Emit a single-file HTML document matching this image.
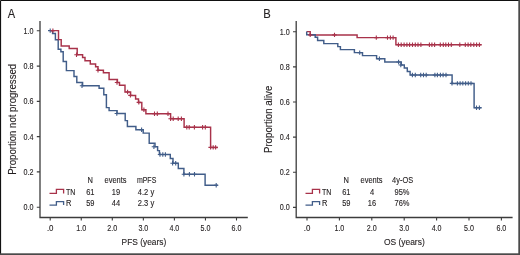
<!DOCTYPE html>
<html><head><meta charset="utf-8"><style>
svg,text{font-family:"Liberation Sans",sans-serif}
text{stroke:#231f20;stroke-width:0.12px}
html,body{margin:0;padding:0;background:#fff;width:520px;height:255px;overflow:hidden}
</style></head><body>
<svg width="520" height="255" viewBox="0 0 520 255" style="display:block;will-change:transform" font-family="Liberation Sans, sans-serif" fill="#231f20">
<rect x="0" y="0" width="520" height="255" fill="#fff"/>
<text x="7.8" y="17.9" font-size="12" textLength="7.4" lengthAdjust="spacingAndGlyphs">A</text>
<text x="263.3" y="17.95" font-size="12.3" textLength="7.5" lengthAdjust="spacingAndGlyphs">B</text>
<path d="M40,21 V217.5 H247.8" fill="none" stroke="#3c3c3c" stroke-width="1.3"/>
<path d="M36.8,207.20 H40 M36.8,171.92 H40 M36.8,136.64 H40 M36.8,101.36 H40 M36.8,66.08 H40 M36.8,30.80 H40 M50.20,217.5 V220.6 M81.25,217.5 V220.6 M112.30,217.5 V220.6 M143.35,217.5 V220.6 M174.40,217.5 V220.6 M205.45,217.5 V220.6 M236.50,217.5 V220.6 " fill="none" stroke="#3c3c3c" stroke-width="1.1"/>
<text x="33.5" y="210.15" text-anchor="end" font-size="8.5" textLength="10.0" lengthAdjust="spacingAndGlyphs">0.0</text>
<text x="33.5" y="174.87" text-anchor="end" font-size="8.5" textLength="10.0" lengthAdjust="spacingAndGlyphs">0.2</text>
<text x="33.5" y="139.59" text-anchor="end" font-size="8.5" textLength="10.0" lengthAdjust="spacingAndGlyphs">0.4</text>
<text x="33.5" y="104.31" text-anchor="end" font-size="8.5" textLength="10.0" lengthAdjust="spacingAndGlyphs">0.6</text>
<text x="33.5" y="69.03" text-anchor="end" font-size="8.5" textLength="10.0" lengthAdjust="spacingAndGlyphs">0.8</text>
<text x="33.5" y="33.75" text-anchor="end" font-size="8.5" textLength="10.0" lengthAdjust="spacingAndGlyphs">1.0</text>
<text x="50.20" y="231.2" text-anchor="middle" font-size="8.4" textLength="6.6" lengthAdjust="spacingAndGlyphs">.0</text>
<text x="81.25" y="231.2" text-anchor="middle" font-size="8.4" textLength="9.9" lengthAdjust="spacingAndGlyphs">1.0</text>
<text x="112.30" y="231.2" text-anchor="middle" font-size="8.4" textLength="9.9" lengthAdjust="spacingAndGlyphs">2.0</text>
<text x="143.35" y="231.2" text-anchor="middle" font-size="8.4" textLength="9.9" lengthAdjust="spacingAndGlyphs">3.0</text>
<text x="174.40" y="231.2" text-anchor="middle" font-size="8.4" textLength="9.9" lengthAdjust="spacingAndGlyphs">4.0</text>
<text x="205.45" y="231.2" text-anchor="middle" font-size="8.4" textLength="9.9" lengthAdjust="spacingAndGlyphs">5.0</text>
<text x="236.50" y="231.2" text-anchor="middle" font-size="8.4" textLength="9.9" lengthAdjust="spacingAndGlyphs">6.0</text>
<path d="M296.2,21 V217.5 H512.6" fill="none" stroke="#3c3c3c" stroke-width="1.3"/>
<path d="M293.0,207.40 H296.2 M293.0,172.26 H296.2 M293.0,137.12 H296.2 M293.0,101.98 H296.2 M293.0,66.84 H296.2 M293.0,31.70 H296.2 M307.00,217.5 V220.6 M339.40,217.5 V220.6 M371.80,217.5 V220.6 M404.20,217.5 V220.6 M436.60,217.5 V220.6 M469.00,217.5 V220.6 M501.40,217.5 V220.6 " fill="none" stroke="#3c3c3c" stroke-width="1.1"/>
<text x="289.8" y="210.35" text-anchor="end" font-size="8.5" textLength="10.0" lengthAdjust="spacingAndGlyphs">0.0</text>
<text x="289.8" y="175.21" text-anchor="end" font-size="8.5" textLength="10.0" lengthAdjust="spacingAndGlyphs">0.2</text>
<text x="289.8" y="140.07" text-anchor="end" font-size="8.5" textLength="10.0" lengthAdjust="spacingAndGlyphs">0.4</text>
<text x="289.8" y="104.93" text-anchor="end" font-size="8.5" textLength="10.0" lengthAdjust="spacingAndGlyphs">0.6</text>
<text x="289.8" y="69.79" text-anchor="end" font-size="8.5" textLength="10.0" lengthAdjust="spacingAndGlyphs">0.8</text>
<text x="289.8" y="34.65" text-anchor="end" font-size="8.5" textLength="10.0" lengthAdjust="spacingAndGlyphs">1.0</text>
<text x="307.00" y="231.2" text-anchor="middle" font-size="8.4" textLength="6.6" lengthAdjust="spacingAndGlyphs">.0</text>
<text x="339.40" y="231.2" text-anchor="middle" font-size="8.4" textLength="9.9" lengthAdjust="spacingAndGlyphs">1.0</text>
<text x="371.80" y="231.2" text-anchor="middle" font-size="8.4" textLength="9.9" lengthAdjust="spacingAndGlyphs">2.0</text>
<text x="404.20" y="231.2" text-anchor="middle" font-size="8.4" textLength="9.9" lengthAdjust="spacingAndGlyphs">3.0</text>
<text x="436.60" y="231.2" text-anchor="middle" font-size="8.4" textLength="9.9" lengthAdjust="spacingAndGlyphs">4.0</text>
<text x="469.00" y="231.2" text-anchor="middle" font-size="8.4" textLength="9.9" lengthAdjust="spacingAndGlyphs">5.0</text>
<text x="501.40" y="231.2" text-anchor="middle" font-size="8.4" textLength="9.9" lengthAdjust="spacingAndGlyphs">6.0</text>
<text x="143.9" y="244.6" text-anchor="middle" font-size="8.7" textLength="44.6" lengthAdjust="spacingAndGlyphs">PFS (years)</text>
<text x="404.3" y="244.6" text-anchor="middle" font-size="8.7" textLength="40.8" lengthAdjust="spacingAndGlyphs">OS (years)</text>
<text transform="translate(16.0,119.35) rotate(-90)" x="0" y="0" text-anchor="middle" font-size="10.2" textLength="111" lengthAdjust="spacingAndGlyphs">Proportion not progressed</text>
<text transform="translate(272.2,119.4) rotate(-90)" x="0" y="0" text-anchor="middle" font-size="10.2" textLength="67.4" lengthAdjust="spacingAndGlyphs">Proportion alive</text>
<path d="M49.5,193.4 H56.4 V189.4 H63.6 V193.4" fill="none" stroke="#a8324a" stroke-width="1.3"/>
<path d="M49.5,205.1 H56.4 V201.6 H63.6 V205.1" fill="none" stroke="#415d89" stroke-width="1.3"/>
<text x="90.3" y="182.5" text-anchor="middle" font-size="8.2" textLength="5.4" lengthAdjust="spacingAndGlyphs">N</text>
<text x="115.5" y="182.5" text-anchor="middle" font-size="8.2" textLength="22.0" lengthAdjust="spacingAndGlyphs">events</text>
<text x="146.6" y="182.5" text-anchor="middle" font-size="8.2" textLength="19.4" lengthAdjust="spacingAndGlyphs">mPFS</text>
<text x="66.0" y="194.5" font-size="8.2" textLength="9.4" lengthAdjust="spacingAndGlyphs">TN</text>
<text x="90.3" y="194.5" text-anchor="middle" font-size="8.2" textLength="8.3" lengthAdjust="spacingAndGlyphs">61</text>
<text x="116" y="194.5" text-anchor="middle" font-size="8.2" textLength="8.3" lengthAdjust="spacingAndGlyphs">19</text>
<text x="146" y="194.5" text-anchor="middle" font-size="8.2" textLength="16.4" lengthAdjust="spacingAndGlyphs">4.2 y</text>
<text x="66.0" y="206.0" font-size="8.2" textLength="5.4" lengthAdjust="spacingAndGlyphs">R</text>
<text x="90.3" y="206.0" text-anchor="middle" font-size="8.2" textLength="8.3" lengthAdjust="spacingAndGlyphs">59</text>
<text x="116" y="206.0" text-anchor="middle" font-size="8.2" textLength="8.3" lengthAdjust="spacingAndGlyphs">44</text>
<text x="146" y="206.0" text-anchor="middle" font-size="8.2" textLength="16.4" lengthAdjust="spacingAndGlyphs">2.3 y</text>
<path d="M305.5,193.4 H312.4 V189.4 H319.6 V193.4" fill="none" stroke="#a8324a" stroke-width="1.3"/>
<path d="M305.5,205.1 H312.4 V201.6 H319.6 V205.1" fill="none" stroke="#415d89" stroke-width="1.3"/>
<text x="346.3" y="182.5" text-anchor="middle" font-size="8.2" textLength="5.4" lengthAdjust="spacingAndGlyphs">N</text>
<text x="371.5" y="182.5" text-anchor="middle" font-size="8.2" textLength="22.0" lengthAdjust="spacingAndGlyphs">events</text>
<text x="402.6" y="182.5" text-anchor="middle" font-size="8.2" textLength="21.0" lengthAdjust="spacingAndGlyphs">4y-OS</text>
<text x="322.0" y="194.5" font-size="8.2" textLength="9.4" lengthAdjust="spacingAndGlyphs">TN</text>
<text x="346.3" y="194.5" text-anchor="middle" font-size="8.2" textLength="8.3" lengthAdjust="spacingAndGlyphs">61</text>
<text x="372" y="194.5" text-anchor="middle" font-size="8.2" textLength="4.2" lengthAdjust="spacingAndGlyphs">4</text>
<text x="402" y="194.5" text-anchor="middle" font-size="8.2" textLength="15.0" lengthAdjust="spacingAndGlyphs">95%</text>
<text x="322.0" y="206.0" font-size="8.2" textLength="5.4" lengthAdjust="spacingAndGlyphs">R</text>
<text x="346.3" y="206.0" text-anchor="middle" font-size="8.2" textLength="8.3" lengthAdjust="spacingAndGlyphs">59</text>
<text x="372" y="206.0" text-anchor="middle" font-size="8.2" textLength="8.3" lengthAdjust="spacingAndGlyphs">16</text>
<text x="402" y="206.0" text-anchor="middle" font-size="8.2" textLength="15.0" lengthAdjust="spacingAndGlyphs">76%</text>
<path d="M50.2,30.6 H52.6 V33.4 H55.4 V39.8 H58.2 V49.3 H60.9 V51.8 H63.2 V61.5 H66.4 V70.6 H74.0 V76.5 H76.8 V82.4 H82.6 V85.7 H99.1 V88.2 H103.8 V94.7 H106.4 V107.6 H109.1 V110.6 H117.1 V113.5 H125.2 V120.6 H127.4 V126.5 H135.9 V129.8 H143.2 V133.1 H149.2 V143.2 H155.0 V146.8 H157.6 V150.6 H159.4 V154.5 H170.3 V158.5 H173.0 V163.3 H178.3 V168.5 H183.9 V174.2 H205.1 V185.3 H217.9" fill="none" stroke="#415d89" stroke-width="1.45" stroke-linejoin="miter" stroke-linecap="butt"/>
<path d="M48.00,30.6 H52.40 M50.2,28.40 V32.80 M79.80,85.7 H84.20 M82.0,83.50 V87.90 M114.60,113.5 H119.00 M116.8,111.30 V115.70 M139.40,129.8 H143.80 M141.6,127.60 V132.00 M151.70,146.8 H156.10 M153.9,144.60 V149.00 M157.80,154.5 H162.20 M160.0,152.30 V156.70 M160.60,154.5 H165.00 M162.8,152.30 V156.70 M163.20,154.5 H167.60 M165.4,152.30 V156.70 M170.40,163.3 H174.80 M172.6,161.10 V165.50 M173.50,163.3 H177.90 M175.7,161.10 V165.50 M181.70,174.2 H186.10 M183.9,172.00 V176.40 M187.20,174.2 H191.60 M189.4,172.00 V176.40 M192.30,174.2 H196.70 M194.5,172.00 V176.40 M214.00,185.3 H218.40 M216.2,183.10 V187.50" fill="none" stroke="#415d89" stroke-width="1.1"/>
<path d="M51.0,30.6 H58.5 V39.6 H61.2 V45.9 H69.2 V48.5 H77.2 V54.7 H82.6 V57.5 H85.0 V60.8 H90.3 V63.9 H95.6 V66.7 H98.0 V70.2 H103.4 V72.7 H109.1 V79.4 H117.4 V82.5 H119.5 V85.3 H125.0 V92.0 H130.6 V95.4 H135.6 V98.9 H138.5 V102.4 H141.8 V109.7 H145.9 V113.8 H170.6 V118.8 H184.1 V127.2 H210.6 V147.4 H217.8" fill="none" stroke="#a8324a" stroke-width="1.45" stroke-linejoin="miter" stroke-linecap="butt"/>
<path d="M50.70,30.6 H55.10 M52.9,28.40 V32.80 M74.30,54.7 H78.70 M76.5,52.50 V56.90 M95.80,70.2 H100.20 M98.0,68.00 V72.40 M114.80,82.5 H119.20 M117.0,80.30 V84.70 M125.40,92.0 H129.80 M127.6,89.80 V94.20 M128.20,95.4 H132.60 M130.4,93.20 V97.60 M136.60,102.4 H141.00 M138.8,100.20 V104.60 M141.70,109.7 H146.10 M143.9,107.50 V111.90 M152.30,113.8 H156.70 M154.5,111.60 V116.00 M155.10,113.8 H159.50 M157.3,111.60 V116.00 M165.80,113.8 H170.20 M168.0,111.60 V116.00 M168.40,118.8 H172.80 M170.6,116.60 V121.00 M171.00,118.8 H175.40 M173.2,116.60 V121.00 M176.00,118.8 H180.40 M178.2,116.60 V121.00 M179.20,118.8 H183.60 M181.4,116.60 V121.00 M184.60,127.2 H189.00 M186.8,125.00 V129.40 M187.00,127.2 H191.40 M189.2,125.00 V129.40 M192.20,127.2 H196.60 M194.4,125.00 V129.40 M200.40,127.2 H204.80 M202.6,125.00 V129.40 M203.10,127.2 H207.50 M205.3,125.00 V129.40 M208.40,147.4 H212.80 M210.6,145.20 V149.60 M211.00,147.4 H215.40 M213.2,145.20 V149.60 M213.40,147.4 H217.80 M215.6,145.20 V149.60" fill="none" stroke="#a8324a" stroke-width="1.1"/>
<path d="M306.7,31.6 H310.2 V34.9 H357.1 V37.6 H395.9 V44.7 H481.6" fill="none" stroke="#a8324a" stroke-width="1.45" stroke-linejoin="miter" stroke-linecap="butt"/>
<path d="M306.7,31.6 V34.8  H315.2 V37.3 H317.6 V40.5 H323.8 V43.6 H337.8 V46.6 H340.4 V49.6 H354.4 V52.6 H362.5 V55.6 H376.6 V58.8 H384.8 V62.0 H401.3 V64.9 H404.3 V68.0 H407.3 V71.4 H410.1 V75.0 H452.1 V83.4 H474.1 V107.8 H481.5" fill="none" stroke="#415d89" stroke-width="1.45" stroke-linejoin="miter" stroke-linecap="butt"/>
<path d="M308.00,34.9 H312.40 M310.2,32.70 V37.10 M332.30,34.9 H336.70 M334.5,32.70 V37.10 M374.10,37.6 H378.50 M376.3,35.40 V39.80 M385.30,37.6 H389.70 M387.5,35.40 V39.80 M388.20,37.6 H392.60 M390.4,35.40 V39.80 M390.90,37.6 H395.30 M393.1,35.40 V39.80 M396.20,44.7 H400.60 M398.4,42.50 V46.90 M399.00,44.7 H403.40 M401.2,42.50 V46.90 M401.90,44.7 H406.30 M404.1,42.50 V46.90 M404.70,44.7 H409.10 M406.9,42.50 V46.90 M407.40,44.7 H411.80 M409.6,42.50 V46.90 M410.30,44.7 H414.70 M412.5,42.50 V46.90 M413.10,44.7 H417.50 M415.3,42.50 V46.90 M415.80,44.7 H420.20 M418.0,42.50 V46.90 M418.70,44.7 H423.10 M420.9,42.50 V46.90 M427.20,44.7 H431.60 M429.4,42.50 V46.90 M429.70,44.7 H434.10 M431.9,42.50 V46.90 M432.40,44.7 H436.80 M434.6,42.50 V46.90 M438.10,44.7 H442.50 M440.3,42.50 V46.90 M441.10,44.7 H445.50 M443.3,42.50 V46.90 M443.60,44.7 H448.00 M445.8,42.50 V46.90 M446.30,44.7 H450.70 M448.5,42.50 V46.90 M449.10,44.7 H453.50 M451.3,42.50 V46.90 M457.60,44.7 H462.00 M459.8,42.50 V46.90 M463.10,44.7 H467.50 M465.3,42.50 V46.90 M465.90,44.7 H470.30 M468.1,42.50 V46.90 M468.60,44.7 H473.00 M470.8,42.50 V46.90 M471.60,44.7 H476.00 M473.8,42.50 V46.90 M474.40,44.7 H478.80 M476.6,42.50 V46.90 M477.20,44.7 H481.60 M479.4,42.50 V46.90" fill="none" stroke="#a8324a" stroke-width="1.1"/>
<path d="M357.50,52.6 H361.90 M359.7,50.40 V54.80 M377.20,58.8 H381.60 M379.4,56.60 V61.00 M396.40,62.0 H400.80 M398.6,59.80 V64.20 M398.60,65.0 H403.00 M400.8,62.80 V67.20 M410.20,75.0 H414.60 M412.4,72.80 V77.20 M413.10,75.0 H417.50 M415.3,72.80 V77.20 M418.50,75.0 H422.90 M420.7,72.80 V77.20 M421.30,75.0 H425.70 M423.5,72.80 V77.20 M424.00,75.0 H428.40 M426.2,72.80 V77.20 M432.70,75.0 H437.10 M434.9,72.80 V77.20 M435.20,75.0 H439.60 M437.4,72.80 V77.20 M438.20,75.0 H442.60 M440.4,72.80 V77.20 M440.90,75.0 H445.30 M443.1,72.80 V77.20 M443.80,75.0 H448.20 M446.0,72.80 V77.20 M449.80,83.4 H454.20 M452.0,81.20 V85.60 M455.20,83.4 H459.60 M457.4,81.20 V85.60 M457.90,83.4 H462.30 M460.1,81.20 V85.60 M460.60,83.4 H465.00 M462.8,81.20 V85.60 M463.40,83.4 H467.80 M465.6,81.20 V85.60 M466.10,83.4 H470.50 M468.3,81.20 V85.60 M468.80,83.4 H473.20 M471.0,81.20 V85.60 M474.30,107.8 H478.70 M476.5,105.60 V110.00 M477.20,107.8 H481.60 M479.4,105.60 V110.00" fill="none" stroke="#415d89" stroke-width="1.1"/>
<path d="M0.5,0.5 H519 M0.5,0.5 V254" fill="none" stroke="#111" stroke-width="1.2"/>
<rect x="0" y="253.3" width="520" height="1.7" fill="#4a4a4a"/>
<rect x="518.3" y="0" width="1.7" height="255" fill="#4a4a4a"/>
</svg>
</body></html>
